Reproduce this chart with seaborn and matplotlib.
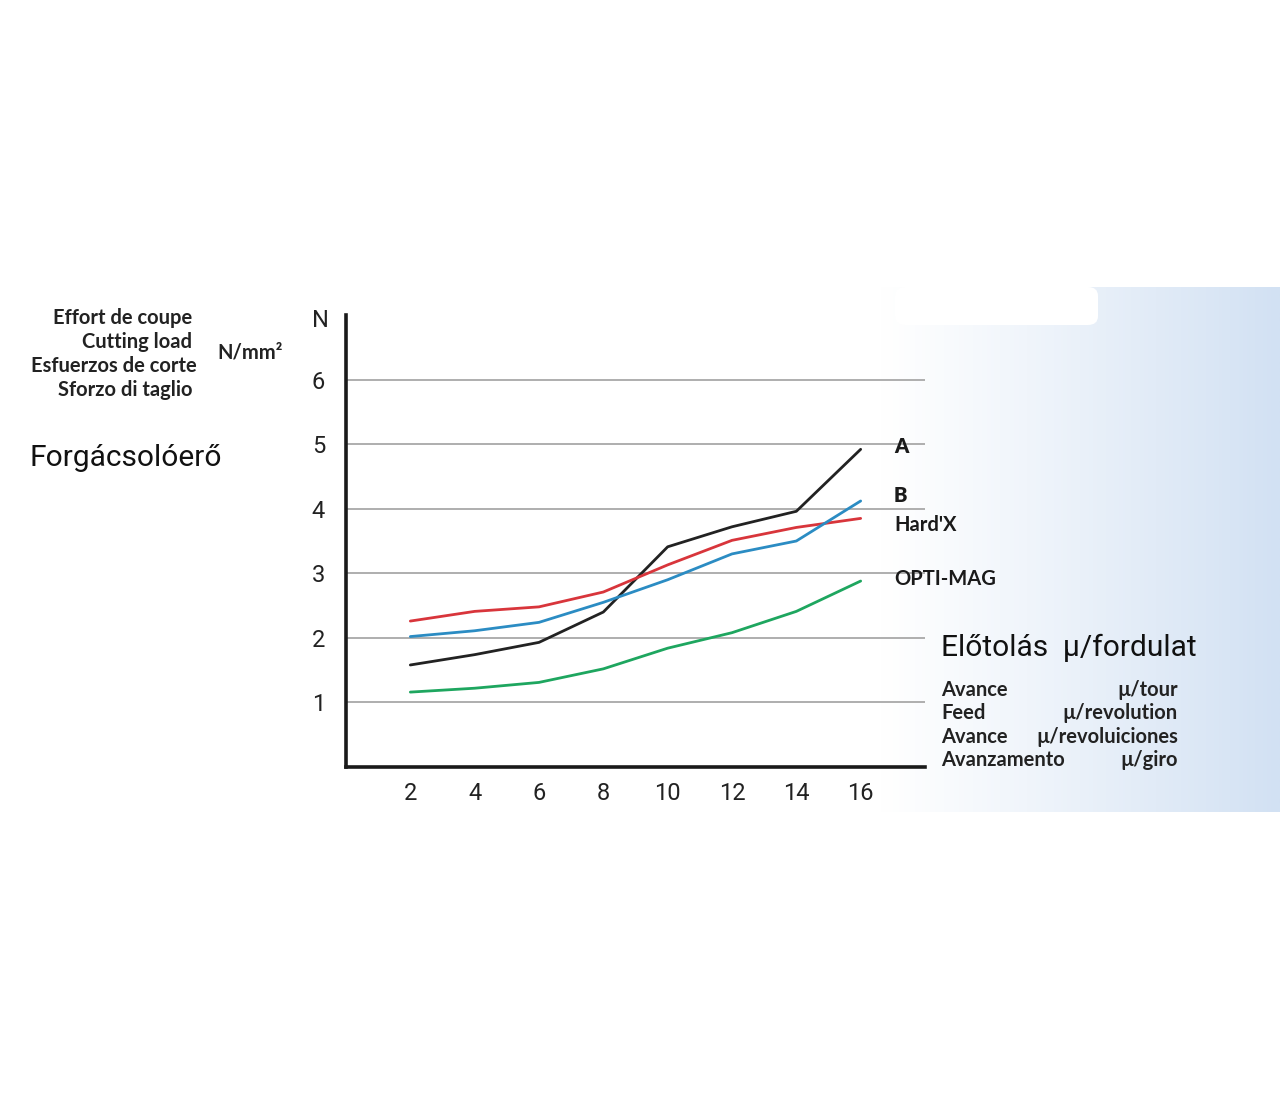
import numpy as np
import pandas as pd
import matplotlib
matplotlib.use("Agg")
import matplotlib.pyplot as plt
from matplotlib.patches import FancyBboxPatch
import seaborn as sns

# feed values (x axis)
feed = [2, 4, 6, 8, 10, 12, 14, 16]

# cutting load N/mm2 per curve
load_a = [1.58, 1.74, 1.93, 2.40, 3.41, 3.72, 3.96, 4.92]
load_hardx = [2.26, 2.41, 2.48, 2.71, 3.13, 3.51, 3.71, 3.85]
load_b = [2.02, 2.11, 2.24, 2.55, 2.90, 3.30, 3.50, 4.12]
load_optimag = [1.16, 1.22, 1.31, 1.52, 1.84, 2.08, 2.41, 2.88]

series_names = ["A", "Hard'X", "B", "OPTI-MAG"]
series_colors = ["#222222", "#d8353b", "#2b8cc3", "#1ea65f"]

y_ticks = [1, 2, 3, 4, 5, 6]
x_ticks = [2, 4, 6, 8, 10, 12, 14, 16]

left_labels = ["Effort de coupe", "Cutting load", "Esfuerzos de corte", "Sforzo di taglio"]
feed_labels = ["Avance", "Feed", "Avance", "Avanzamento"]
feed_units = ["µ/tour", "µ/revolution", "µ/revoluiciones", "µ/giro"]

W, H = 1280, 1100


def px(x, y):
    return x / W, 1 - y / H


def main():
    df = pd.DataFrame({
        "feed": feed * 4,
        "load": load_a + load_hardx + load_b + load_optimag,
        "series": sum([[n] * len(feed) for n in series_names], []),
    })

    sns.set_style("white")
    plain = ["Roboto", "DejaVu Sans"]
    bold_font = ["Lato", "DejaVu Sans"]
    plt.rcParams["font.family"] = plain

    fig = plt.figure(figsize=(W / 100, H / 100), dpi=100)

    # light blue gradient panel on the right
    bg = fig.add_axes([880 / W, 1 - 812 / H, 400 / W, 525 / H], zorder=0)
    grad = np.linspace(0, 1, 256) ** 1.1
    white = np.array([1.0, 1.0, 1.0])
    blue = np.array([210, 225, 243]) / 255
    img = white[None, :] * (1 - grad[:, None]) + blue[None, :] * grad[:, None]
    bg.imshow(img[None, :, :], aspect="auto", extent=[0, 1, 0, 1])
    bg.axis("off")
    fig.patches.append(FancyBboxPatch(
        px(895, 325), 203 / W, 38 / H,
        boxstyle="round,pad=0,rounding_size=0.008",
        transform=fig.transFigure, facecolor="white", edgecolor="none", zorder=1))

    ax = fig.add_axes([346 / W, 1 - 767 / H, 579 / W, 452 / H], zorder=2)
    ax.patch.set_alpha(0)

    for y in y_ticks:
        ax.axhline(y, color="#a8a8a8", linewidth=1.3, zorder=1)

    sns.lineplot(data=df, x="feed", y="load", hue="series",
                 palette=dict(zip(series_names, series_colors)),
                 linewidth=2.0, legend=False, ax=ax, zorder=3)

    ax.set_xlim(0, 18)
    ax.set_ylim(0, 7)
    ax.set_xticks(x_ticks)
    ax.set_yticks(y_ticks)
    ax.set_xlabel("")
    ax.set_ylabel("")
    for s in ["top", "right"]:
        ax.spines[s].set_visible(False)
    for s in ["left", "bottom"]:
        ax.spines[s].set_linewidth(2.6)
        ax.spines[s].set_color("#1a1a1a")
    ax.tick_params(axis="y", direction="out", length=4, width=1.2, pad=11,
                   labelsize=17, colors="#222222")
    ax.tick_params(axis="x", direction="out", length=4, width=1.2, pad=7,
                   labelsize=17, colors="#222222")
    ax.text(-0.045, 6.92, "N", transform=ax.get_yaxis_transform(),
            ha="center", va="center", fontsize=17, color="#222222")

    # curve labels
    lab_kw = dict(fontsize=14.5, color="#1a1a1a", family=bold_font, ha="left", va="center")
    fig.text(*px(894, 446), "A", fontweight="heavy", **lab_kw)
    fig.text(*px(894, 496), "B", fontweight="heavy", **lab_kw)
    fig.text(*px(894, 525), "Hard'X", fontweight="bold", **lab_kw)
    fig.text(*px(894, 579), "OPTI-MAG", fontweight="bold", **lab_kw)

    # y axis description
    left_x = [192, 192, 197, 192]
    for i, t in enumerate(left_labels):
        fig.text(*px(left_x[i], 318 + 24 * i), t, fontsize=14.5, fontweight="bold",
                 family=bold_font, color="#222222", ha="right", va="center")
    fig.text(*px(217, 352), "N/mm²", fontsize=14.5, fontweight="bold",
             family=bold_font, color="#222222", ha="left", va="center")
    fig.text(*px(30, 458), "Forgácsolóerő", fontsize=21.5, color="#111111",
             ha="left", va="center")

    # x axis description
    fig.text(*px(941, 648), "Előtolás  µ/fordulat", fontsize=21.5, color="#111111",
             ha="left", va="center")
    for i, (a, b) in enumerate(zip(feed_labels, feed_units)):
        yy = 690 + 23.3 * i
        fig.text(*px(941, yy), a, fontsize=14.5, fontweight="bold",
                 family=bold_font, color="#222222", ha="left", va="center")
        fig.text(*px(1178, yy), b, fontsize=14.5, fontweight="bold",
                 family=bold_font, color="#222222", ha="right", va="center")

    fig.savefig("out.png", dpi=100)
    plt.close(fig)


if __name__ == "__main__":
    main()
